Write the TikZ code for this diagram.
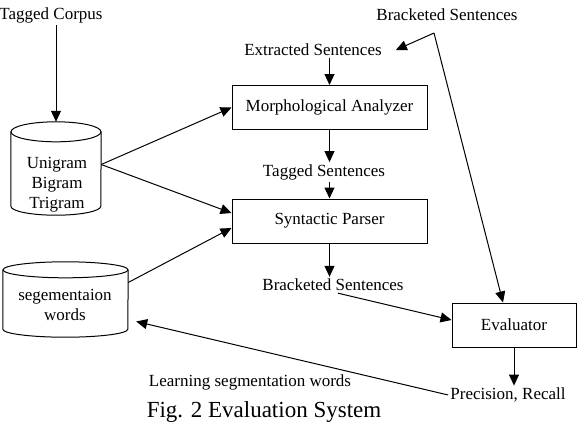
\documentclass[tikz,border=0pt]{standalone}
\usepackage{fontspec}
\setmainfont{Liberation Serif}
\usetikzlibrary{arrows.meta}

\tikzset{
  lbl/.style={font=\fontsize{17}{20}\selectfont, inner sep=2pt},
  procbox/.style={draw, line width=1pt, lbl, minimum height=44pt},
  store/.style={inner sep=0pt},
  flow/.style={-{Triangle[length=11pt,width=10pt]}, line width=1pt},
  rim/.style={line width=1pt},
}

\begin{document}
\begin{tikzpicture}[x=1pt,y=-1pt]
\useasboundingbox (0,0) rectangle (582,424);

% stores
\node[store, minimum width=90, minimum height=93] (ngram) at (56,168.5) {};
\draw[rim] ([yshift=-10pt]ngram.north west) -- ([yshift=9pt]ngram.south west)
  arc[start angle=180, end angle=360, x radius=45pt, y radius=9pt]
  -- ([yshift=-10pt]ngram.north east);
\draw[rim] ([yshift=-10pt]ngram.north) ellipse[x radius=45pt, y radius=10pt];
\node[lbl, align=center] (ngramtxt) at (57,185) {Unigram\\Bigram\\Trigram};

\node[store, minimum width=125, minimum height=75] (segdb) at (65.5,299.5) {};
\draw[rim] ([yshift=-8pt]segdb.north west) -- ([yshift=8pt]segdb.south west)
  arc[start angle=180, end angle=360, x radius=62.5pt, y radius=8pt]
  -- ([yshift=-8pt]segdb.north east);
\draw[rim] ([yshift=-8pt]segdb.north) ellipse[x radius=62.5pt, y radius=8pt];
\node[lbl, align=center] (segtxt) at (65,305) {segementaion\\words};

% processing boxes
\node[procbox, minimum width=195] (morph) at (329.5,107.5) {Morphological Analyzer};
\node[procbox, minimum width=195] (syn) at (329.5,221) {Syntactic Parser};
\node[procbox, minimum width=124] (eval) at (514,325) {Evaluator};

% labels
\node[lbl] (corpus) at (51,15) {Tagged Corpus};
\node[lbl] (gold) at (447,15) {Bracketed Sentences};
\node[lbl] (extracted) at (313,50) {Extracted Sentences};
\node[lbl] (tagged) at (324,172) {Tagged Sentences};
\node[lbl] (bracketed) at (333,285) {Bracketed Sentences};
\node[lbl] (prec) at (508,395) {Precision, Recall};
\node[lbl] (learn) at (250,382) {Learning segmentation words};
\node[font=\fontsize{23}{26}\selectfont, inner sep=0pt] (caption) at (264,412) {Fig. 2 Evaluation System};
\coordinate (bend) at (434,33);

% flows
\draw[flow] (corpus.south -| ngram.north) -- (ngram.north);
\draw[flow] ([yshift=4pt]ngram.east) -- (morph.west);
\draw[flow] ([yshift=4pt]ngram.east) -- ([yshift=8pt]syn.west);
\draw[flow] ([yshift=17pt]segdb.east) -- ([yshift=-7pt]syn.west);
\draw[flow] (extracted.south -| morph.north) -- (morph.north);
\draw[flow] (morph.south) -- (morph.south |- tagged.north);
\draw[flow] (tagged.south -| syn.north) -- (syn.north);
\draw[flow] (syn.south) -- (syn.south |- bracketed.north);
\draw[flow] ([xshift=5pt]bracketed.south) -- ([yshift=5pt]eval.west);
\draw[flow] (bend) -- ([xshift=12pt]extracted.east);
\draw[flow] (bend) -- ([xshift=-11pt]eval.north);
\draw[flow] (eval.south) -- (eval.south |- prec.north);
\draw[flow] (prec.west) -- ([shift={(8pt,-22pt)}]segdb.east);
\end{tikzpicture}
\end{document}
